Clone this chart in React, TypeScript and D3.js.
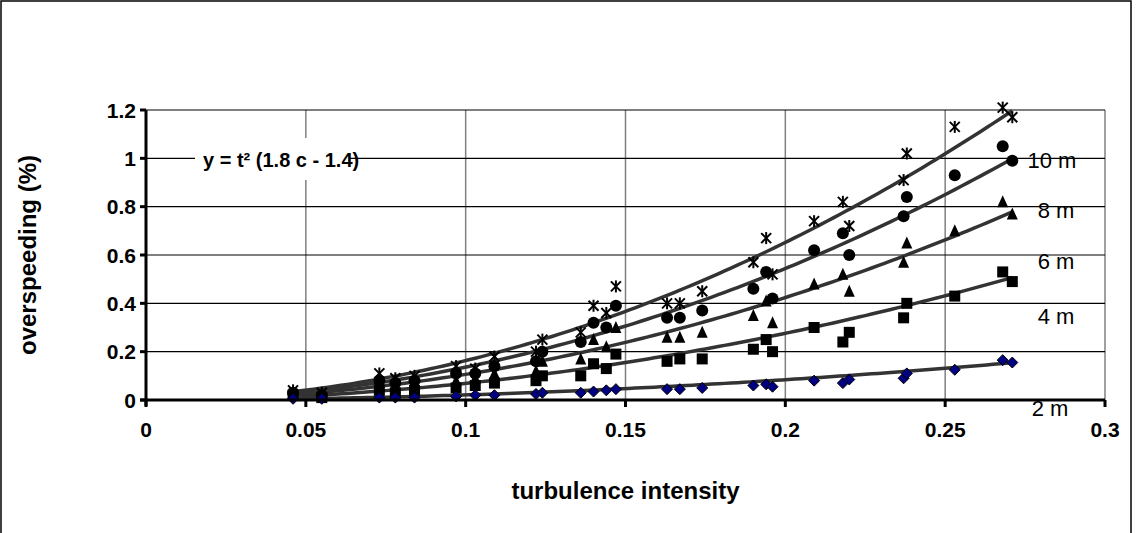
import React from "react";
import * as d3 from "d3";

const xs = [0.046,0.055,0.073,0.078,0.084,0.097,0.103,0.109,0.122,0.124,0.136,0.140,0.144,0.147,0.163,0.167,0.174,0.190,0.194,0.196,0.209,0.218,0.220,0.237,0.238,0.253,0.268,0.271];
const s10 = [0.04,0.03,0.11,0.09,0.10,0.14,0.13,0.18,0.20,0.25,0.28,0.39,0.36,0.47,0.40,0.40,0.45,0.57,0.67,0.52,0.74,0.82,0.72,0.91,1.02,1.13,1.21,1.17];
const s8 = [0.03,0.02,0.08,0.07,0.08,0.11,0.11,0.14,0.16,0.20,0.24,0.32,0.30,0.39,0.34,0.34,0.37,0.46,0.53,0.42,0.62,0.69,0.60,0.76,0.84,0.93,1.05,0.99];
const s6 = [0.02,0.02,0.06,0.05,0.06,0.08,0.09,0.11,0.12,0.16,0.17,0.25,0.22,0.30,0.26,0.26,0.28,0.35,0.41,0.32,0.48,0.52,0.45,0.57,0.65,0.70,0.82,0.77];
const s4 = [0.02,0.01,0.04,0.03,0.04,0.05,0.06,0.07,0.08,0.10,0.10,0.15,0.13,0.19,0.16,0.17,0.17,0.21,0.25,0.20,0.30,0.24,0.28,0.34,0.40,0.43,0.53,0.49];
const s2 = [0.005,0.005,0.01,0.01,0.01,0.015,0.02,0.02,0.025,0.03,0.03,0.035,0.04,0.045,0.045,0.045,0.05,0.06,0.065,0.055,0.08,0.07,0.085,0.09,0.11,0.125,0.165,0.155];
const fitCoef = [16.3, 13.6, 10.6, 6.9, 2.1];
const seriesLabels = ["10 m", "8 m", "6 m", "4 m", "2 m"];
const markers = ["star", "circle", "triangle", "square", "diamond"];
const xTicks = [0, 0.05, 0.1, 0.15, 0.2, 0.25, 0.3];
const yTicks = [0, 0.2, 0.4, 0.6, 0.8, 1, 1.2];

const series = [s10, s8, s6, s4, s2];

function Marker({ type, x, y }: { type: string; x: number; y: number }) {
  const r = 5.5;
  if (type === "circle") return <circle cx={x} cy={y} r={r + 0.5} fill="#000" />;
  if (type === "square") return <rect x={x - r} y={y - r} width={2 * r} height={2 * r} fill="#000" />;
  if (type === "triangle") return <path d={`M${x},${y - r - 1}L${x + r},${y + r}L${x - r},${y + r}Z`} fill="#000" />;
  if (type === "diamond") return <path d={`M${x},${y - r}L${x + r},${y}L${x},${y + r}L${x - r},${y}Z`} fill="#000080" stroke="#000" strokeWidth={1} />;
  return (
    <g stroke="#000" strokeWidth={2}>
      <line x1={x - 5} y1={y - 5} x2={x + 5} y2={y + 5} />
      <line x1={x - 5} y1={y + 5} x2={x + 5} y2={y - 5} />
      <line x1={x} y1={y - 6} x2={x} y2={y + 6} />
    </g>
  );
}

export default function App() {
  const x = d3.scaleLinear().domain([0, 0.3]).range([146, 1105]);
  const y = d3.scaleLinear().domain([0, 1.2]).range([400, 110]);
  const font = "Arial, 'Liberation Sans', sans-serif";
  const fitXs = d3.range(0.045, 0.2711, 0.002);
  return (
    <svg width={1141} height={533} style={{ position: "absolute", left: 0, top: 0, background: "#fff" }} fontFamily={font}>
      <rect x={1} y={1} width={1130} height={540} fill="#fff" stroke="#000" strokeWidth={1.5} />
      {xTicks.slice(1).map(t => (
        <line key={"gx" + t} x1={x(t)} x2={x(t)} y1={y(1.2)} y2={y(0)} stroke="#808080" strokeWidth={1.5} />
      ))}
      {yTicks.slice(1).map(t => (
        <line key={"gy" + t} x1={x(0)} x2={x(0.3)} y1={y(t)} y2={y(t)} stroke="#000" strokeWidth={1.2} />
      ))}
      {fitCoef.map((c, i) => (
        <path key={"f" + i} d={d3.line<number>().x(t => x(t)).y(t => y(c * t * t))(fitXs) || ""} fill="none" stroke="#333" strokeWidth={3.5} />
      ))}
      {series.map((s, i) => s.map((v, j) => <Marker key={i + "-" + j} type={markers[i]} x={x(xs[j])} y={y(v)} />))}
      <line x1={x(0)} x2={x(0)} y1={y(1.2)} y2={y(0) + 6} stroke="#000" strokeWidth={3} />
      <line x1={x(0) - 6} x2={x(0.3)} y1={y(0)} y2={y(0)} stroke="#000" strokeWidth={3} />
      {yTicks.map(t => (
        <g key={"yt" + t}>
          <line x1={x(0) - 6} x2={x(0)} y1={y(t)} y2={y(t)} stroke="#000" strokeWidth={3} />
          <text x={x(0) - 10} y={y(t)} dy="0.36em" textAnchor="end" fontSize={21} fontWeight="bold">{d3.format("~g")(t)}</text>
        </g>
      ))}
      {xTicks.map(t => (
        <g key={"xt" + t}>
          <line x1={x(t)} x2={x(t)} y1={y(0)} y2={y(0) + 7} stroke="#000" strokeWidth={3} />
          <text x={x(t)} y={y(0) + 37} textAnchor="middle" fontSize={21} fontWeight="bold">{d3.format("~g")(t)}</text>
        </g>
      ))}
      <text x={(x(0) + x(0.3)) / 2} y={499} textAnchor="middle" fontSize={24} fontWeight="bold">turbulence intensity</text>
      <text transform={`translate(36,${(y(0) + y(1.2)) / 2}) rotate(-90)`} textAnchor="middle" fontSize={24} fontWeight="bold">overspeeding (%)</text>
      <rect x={195} y={138} width={155} height={42} fill="#fff" />
      <text x={203} y={167} fontSize={20} fontWeight="bold">y = t² (1.8 c - 1.4)</text>
      {seriesLabels.map((l, i) => (
        <text key={l} x={[1052, 1056, 1056, 1056, 1050][i]} y={[168, 218, 269, 324, 416][i]} textAnchor="middle" fontSize={22}>{l}</text>
      ))}
    </svg>
  );
}
